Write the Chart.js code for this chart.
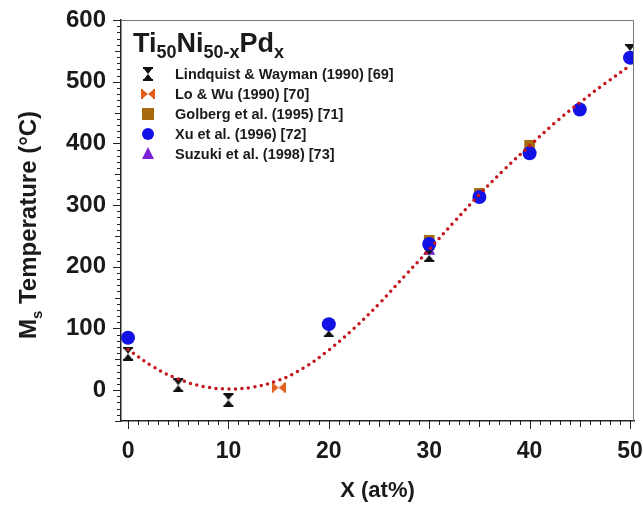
<!DOCTYPE html>
<html>
<head>
<meta charset="utf-8">
<script src="https://cdn.jsdelivr.net/npm/chart.js@4.4.1/dist/chart.umd.min.js"></script>
<style>
  html, body { margin: 0; padding: 0; background: #fff; }
  #wrap { width: 643px; height: 505px; }
</style>
</head>
<body>
<div id="wrap"><canvas id="msChart" width="643" height="505"></canvas></div>
<script>
// data
const lwX = [0, 5, 10, 20, 30, 50];
const lwY = [59, 8, -16, 97, 219, 550];
const loX = [15];
const loY = [4];
const golX = [30, 35, 40];
const golY = [243, 319, 397];
const xuX = [0, 20, 30, 35, 40, 45, 50];
const xuY = [85, 107, 237, 313, 384, 455, 539];
const suzX = [30];
const suzY = [225];
const fitX = [0, 2.5, 5, 7.5, 10, 12.5, 15, 17.5, 20, 22.5, 25, 27.5, 30, 32.5, 35, 37.5, 40, 42.5, 45, 47.5, 50];
const fitY = [66, 38, 18, 6, 2, 5, 16, 36, 65, 100, 140, 184, 228, 273, 317, 358, 396, 433, 466, 497, 526];
const xTicks = [0, 10, 20, 30, 40, 50];
const yTicks = [0, 100, 200, 300, 400, 500, 600];
const legendLabels = [
    "Lindquist & Wayman (1990) [69]",
    "Lo & Wu (1990) [70]",
    "Golberg et al. (1995) [71]",
    "Xu et al. (1996) [72]",
    "Suzuki et al. (1998) [73]"
];

const FONT = '"Liberation Sans", Arial, sans-serif';

function pts(xs, ys) {
    return xs.map((x, i) => ({ x: x, y: ys[i] }));
}

// hourglass marker with caps (error bar look)
function makeHourglass(color, rotate) {
    const c = document.createElement('canvas');
    c.width = 14; c.height = 14;
    const g = c.getContext('2d');
    g.fillStyle = color;
    if (rotate) {
        g.translate(7, 7); g.rotate(Math.PI / 2); g.translate(-7, -7);
    }
    g.fillRect(2, 0, 10, 2);
    g.fillRect(2, 12, 10, 2);
    g.beginPath();
    g.moveTo(3, 2); g.lineTo(11, 2); g.lineTo(7, 7); g.closePath(); g.fill();
    g.beginPath();
    g.moveTo(3, 12); g.lineTo(11, 12); g.lineTo(7, 7); g.closePath(); g.fill();
    return c;
}
const hourBlack = makeHourglass('#111111', false);
const bowOrange = makeHourglass('#e0601c', true);

const legendStyles = [
    { img: hourBlack },
    { img: bowOrange },
    { style: 'rect', color: '#a8690f' },
    { style: 'circle', color: '#1212e6' },
    { style: 'triangle', color: '#7b22d6' }
];

const extrasPlugin = {
    id: 'extras',
    afterDraw(chart) {
        const ctx = chart.ctx;
        const a = chart.chartArea;
        const xs = chart.scales.x, ys = chart.scales.y;
        ctx.save();
        // frame top and right
        ctx.strokeStyle = '#777';
        ctx.lineWidth = 1;
        ctx.beginPath();
        ctx.moveTo(a.left, a.top + 0.5); ctx.lineTo(a.right - 0.5, a.top + 0.5);
        ctx.lineTo(a.right - 0.5, a.bottom);
        ctx.stroke();
        // tick marks
        ctx.strokeStyle = '#222';
        ctx.lineWidth = 1;
        ctx.beginPath();
        for (let v = -50; v <= 600; v += 10) {
            const y = Math.round(ys.getPixelForValue(v)) + 0.5;
            const len = v % 100 === 0 ? 8 : (v % 50 === 0 ? 6 : 4);
            ctx.moveTo(a.left, y); ctx.lineTo(a.left - len, y);
        }
        for (let v = 0; v <= 50; v += 1) {
            const x = Math.round(xs.getPixelForValue(v)) + 0.5;
            const len = v % 10 === 0 ? 8 : (v % 5 === 0 ? 6 : 4);
            ctx.moveTo(x, a.bottom); ctx.lineTo(x, a.bottom + len);
        }
        ctx.stroke();

        ctx.fillStyle = '#1a1a1a';
        // x title
        ctx.font = 'bold 22px ' + FONT;
        ctx.textAlign = 'center';
        ctx.textBaseline = 'alphabetic';
        ctx.fillText('X (at%)', (a.left + a.right) / 2, 497);

        // y title, rotated, with subscript s
        ctx.save();
        ctx.translate(36, 225);
        ctx.rotate(-Math.PI / 2);
        ctx.textAlign = 'left';
        const big = 'bold 24px ' + FONT, small = 'bold 15px ' + FONT;
        ctx.font = big;
        const wM = ctx.measureText('M').width;
        const rest = ' Temperature (\u00B0C)';
        const wRest = ctx.measureText(rest).width;
        ctx.font = small;
        const wS = ctx.measureText('s').width;
        let x0 = -(wM + wS + wRest) / 2;
        ctx.font = big; ctx.fillText('M', x0, 0); x0 += wM;
        ctx.font = small; ctx.fillText('s', x0, 6); x0 += wS;
        ctx.font = big; ctx.fillText(rest, x0, 0);
        ctx.restore();

        // legend title Ti50Ni50-xPdx
        const parts = [['Ti', 0], ['50', 1], ['Ni', 0], ['50-x', 1], ['Pd', 0], ['x', 1]];
        let tx = 133;
        ctx.textAlign = 'left';
        parts.forEach(p => {
            ctx.font = p[1] ? 'bold 18px ' + FONT : 'bold 27px ' + FONT;
            ctx.fillText(p[0], tx, p[1] ? 58 : 52);
            tx += ctx.measureText(p[0]).width;
        });

        // legend rows
        ctx.font = 'bold 14.5px ' + FONT;
        ctx.textBaseline = 'middle';
        legendLabels.forEach((lab, i) => {
            const cy = 74 + i * 20, cx = 148;
            const s = legendStyles[i];
            if (s.img) {
                ctx.drawImage(s.img, cx - 7, cy - 7);
            } else {
                ctx.fillStyle = s.color;
                ctx.beginPath();
                if (s.style === 'rect') ctx.rect(cx - 6, cy - 6, 12, 12);
                if (s.style === 'circle') ctx.arc(cx, cy, 6, 0, Math.PI * 2);
                if (s.style === 'triangle') { ctx.moveTo(cx, cy - 7); ctx.lineTo(cx + 6, cy + 5); ctx.lineTo(cx - 6, cy + 5); ctx.closePath(); }
                ctx.fill();
            }
            ctx.fillStyle = '#1a1a1a';
            ctx.fillText(lab, 175, cy + 1);
        });
        ctx.restore();
    }
};

const ctx = document.getElementById('msChart').getContext('2d');
new Chart(ctx, {
    type: 'scatter',
    data: {
        datasets: [
            {
                label: 'Fit', type: 'line', data: pts(fitX, fitY), order: 0,
                borderColor: '#c4161c', borderWidth: 3.5, borderDash: [0, 6.5],
                borderCapStyle: 'round', pointRadius: 0, tension: 0.4, fill: false
            },
            {
                label: legendLabels[4], data: pts(suzX, suzY), order: 5,
                pointStyle: 'triangle', pointRadius: 7, backgroundColor: '#7b22d6', borderWidth: 0
            },
            {
                label: legendLabels[0], data: pts(lwX, lwY), order: 4,
                pointStyle: hourBlack, pointRadius: 7
            },
            {
                label: legendLabels[1], data: pts(loX, loY), order: 3,
                pointStyle: bowOrange, pointRadius: 7
            },
            {
                label: legendLabels[2], data: pts(golX, golY), order: 2,
                pointStyle: 'rect', pointRadius: 7.5, backgroundColor: '#a8690f', borderWidth: 0
            },
            {
                label: legendLabels[3], data: pts(xuX, xuY), order: 1,
                pointStyle: 'circle', pointRadius: 7, backgroundColor: '#1212e6', borderWidth: 0
            }
        ]
    },
    options: {
        responsive: false,
        animation: false,
        layout: { padding: { top: 20, right: 9, left: 0, bottom: 0 } },
        plugins: { legend: { display: false }, tooltip: { enabled: false } },
        scales: {
            x: {
                type: 'linear', min: -0.7, max: 50.4,
                afterFit: s => { s.height = 84; s.paddingLeft = 0; s.paddingRight = 0; },
                afterBuildTicks: s => { s.ticks = xTicks.map(v => ({ value: v })); },
                grid: { display: false, drawTicks: false },
                border: { display: true, color: '#222', width: 1.5 },
                ticks: { padding: 17, color: '#1a1a1a', font: { family: FONT, size: 23, weight: 'bold' }, maxRotation: 0 }
            },
            y: {
                type: 'linear', min: -50, max: 600,
                afterFit: s => { s.width = 121; s.paddingTop = 0; s.paddingBottom = 0; },
                afterBuildTicks: s => { s.ticks = yTicks.map(v => ({ value: v })); },
                grid: { display: false, drawTicks: false },
                border: { display: true, color: '#222', width: 1.5 },
                ticks: { padding: 15, color: '#1a1a1a', font: { family: FONT, size: 24, weight: 'bold' } }
            }
        }
    },
    plugins: [extrasPlugin]
});
</script>
</body>
</html>
